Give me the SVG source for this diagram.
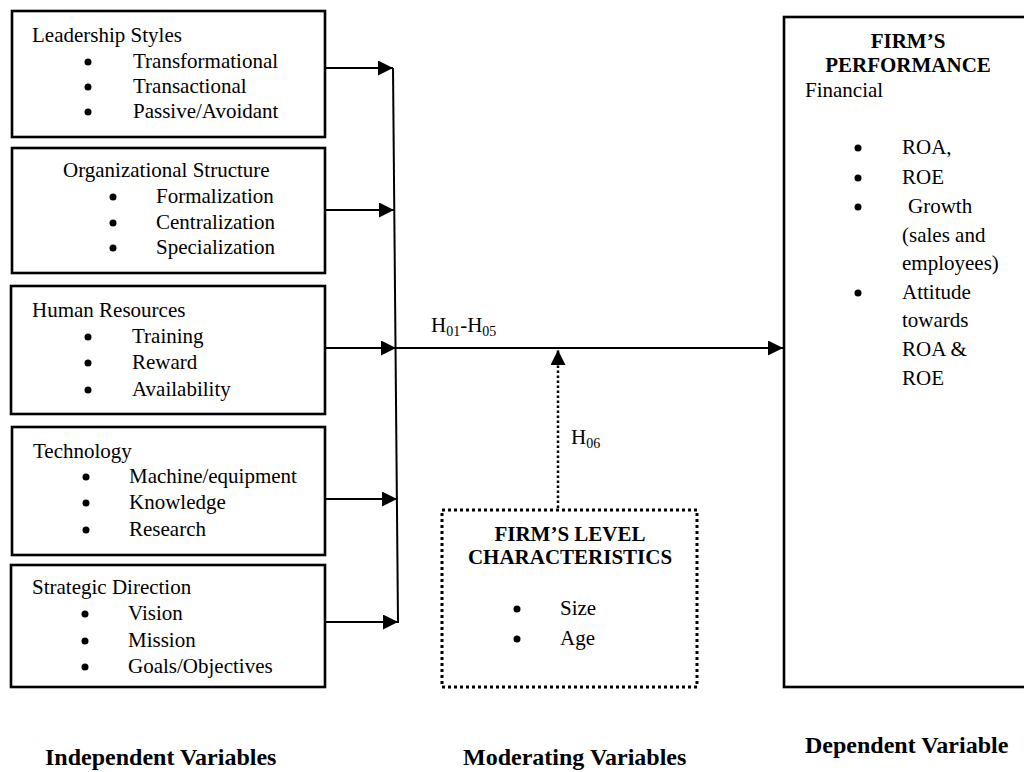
<svg xmlns="http://www.w3.org/2000/svg" width="1024" height="772" viewBox="0 0 1024 772">
<style>
text{font-family:"Liberation Serif","Times New Roman",serif;font-size:21px;fill:#000}
.b{font-weight:bold}
.lbl{font-weight:bold;font-size:24px}
.sub{font-size:14px}
.box{fill:#fff;stroke:#000;stroke-width:2.6}
.dbox{fill:#fff;stroke:#000;stroke-width:3;stroke-dasharray:3 3}
.ln{stroke:#000;stroke-width:2;fill:none}
.dot{stroke:#000;stroke-width:2.5;fill:none;stroke-dasharray:2.5 2.5}
.bul{fill:#000}
</style>
<defs>
<marker id="ah" viewBox="0 0 15 15" refX="15" refY="7.5" markerWidth="15" markerHeight="15" markerUnits="userSpaceOnUse" orient="auto">
<path d="M0,0 L15,7.5 L0,15 Z" fill="#000"/>
</marker>
</defs>

<g id="leadership">
<rect class="box" x="12" y="11" width="313" height="126"/>
<text x="32" y="42">Leadership Styles</text>
<circle class="bul" cx="88" cy="62" r="3.5"/><text x="133" y="68">Transformational</text>
<circle class="bul" cx="88" cy="87" r="3.5"/><text x="133" y="93">Transactional</text>
<circle class="bul" cx="88" cy="112" r="3.5"/><text x="133" y="118">Passive/Avoidant</text>
</g>

<g id="structure">
<rect class="box" x="12" y="148" width="313" height="125"/>
<text x="63" y="177">Organizational Structure</text>
<circle class="bul" cx="113" cy="197" r="3.5"/><text x="156" y="203">Formalization</text>
<circle class="bul" cx="113" cy="223" r="3.5"/><text x="156" y="229">Centralization</text>
<circle class="bul" cx="113" cy="248" r="3.5"/><text x="156" y="254">Specialization</text>
</g>

<g id="hr">
<rect class="box" x="11" y="286" width="314" height="128"/>
<text x="32" y="317">Human Resources</text>
<circle class="bul" cx="88" cy="337" r="3.5"/><text x="132" y="343">Training</text>
<circle class="bul" cx="88" cy="363" r="3.5"/><text x="132" y="369">Reward</text>
<circle class="bul" cx="88" cy="390" r="3.5"/><text x="132" y="396">Availability</text>
</g>

<g id="technology">
<rect class="box" x="12" y="427" width="313" height="128"/>
<text x="33" y="458">Technology</text>
<circle class="bul" cx="86" cy="477" r="3.5"/><text x="129" y="483">Machine/equipment</text>
<circle class="bul" cx="86" cy="503" r="3.5"/><text x="129" y="509">Knowledge</text>
<circle class="bul" cx="86" cy="530" r="3.5"/><text x="129" y="536">Research</text>
</g>

<g id="strategic">
<rect class="box" x="11" y="565" width="314" height="122"/>
<text x="32" y="594">Strategic Direction</text>
<circle class="bul" cx="85" cy="614" r="3.5"/><text x="128" y="620">Vision</text>
<circle class="bul" cx="85" cy="641" r="3.5"/><text x="128" y="647">Mission</text>
<circle class="bul" cx="85" cy="667" r="3.5"/><text x="128" y="673">Goals/Objectives</text>
</g>

<g id="moderator">
<rect class="dbox" x="442" y="510" width="255" height="177"/>
<text class="b" x="570" y="541" text-anchor="middle">FIRM’S LEVEL</text>
<text class="b" x="570" y="564" text-anchor="middle">CHARACTERISTICS</text>
<circle class="bul" cx="517" cy="609" r="3.5"/><text x="560" y="615">Size</text>
<circle class="bul" cx="517" cy="639" r="3.5"/><text x="560" y="645">Age</text>
</g>

<g id="performance">
<rect class="box" x="784" y="17" width="250" height="670"/>
<text class="b" x="908" y="48" text-anchor="middle">FIRM’S</text>
<text class="b" x="908" y="72" text-anchor="middle">PERFORMANCE</text>
<text x="805" y="97">Financial</text>
<circle class="bul" cx="858" cy="148" r="3.5"/><text x="902" y="154">ROA,</text>
<circle class="bul" cx="858" cy="178" r="3.5"/><text x="902" y="184">ROE</text>
<circle class="bul" cx="858" cy="207" r="3.5"/><text x="908" y="213">Growth</text>
<text x="902" y="242">(sales and</text>
<text x="902" y="270">employees)</text>
<circle class="bul" cx="858" cy="293" r="3.5"/><text x="902" y="299">Attitude</text>
<text x="902" y="327">towards</text>
<text x="902" y="356">ROA &amp;</text>
<text x="902" y="385">ROE</text>
</g>

<g id="connectors">
<line class="ln" x1="325" y1="68" x2="393" y2="68" marker-end="url(#ah)"/>
<line class="ln" x1="325" y1="210" x2="394" y2="210" marker-end="url(#ah)"/>
<line class="ln" x1="325" y1="348" x2="396" y2="348" marker-end="url(#ah)"/>
<line class="ln" x1="325" y1="499" x2="397" y2="499" marker-end="url(#ah)"/>
<line class="ln" x1="325" y1="622" x2="398" y2="622" marker-end="url(#ah)"/>
<line class="ln" x1="393" y1="68" x2="398" y2="623"/>
<line class="ln" x1="396" y1="348" x2="783" y2="348" marker-end="url(#ah)"/>
<line class="dot" x1="558" y1="508" x2="558" y2="350" marker-end="url(#ah)"/>
<text x="431" y="332">H<tspan class="sub" dy="4">01</tspan><tspan dy="-4">-H</tspan><tspan class="sub" dy="4">05</tspan></text>
<text x="571" y="444">H<tspan class="sub" dy="4">06</tspan></text>
</g>

<g id="labels">
<text class="lbl" x="45" y="765">Independent Variables</text>
<text class="lbl" x="463" y="765">Moderating Variables</text>
<text class="lbl" x="805" y="753">Dependent Variable</text>
</g>
</svg>
